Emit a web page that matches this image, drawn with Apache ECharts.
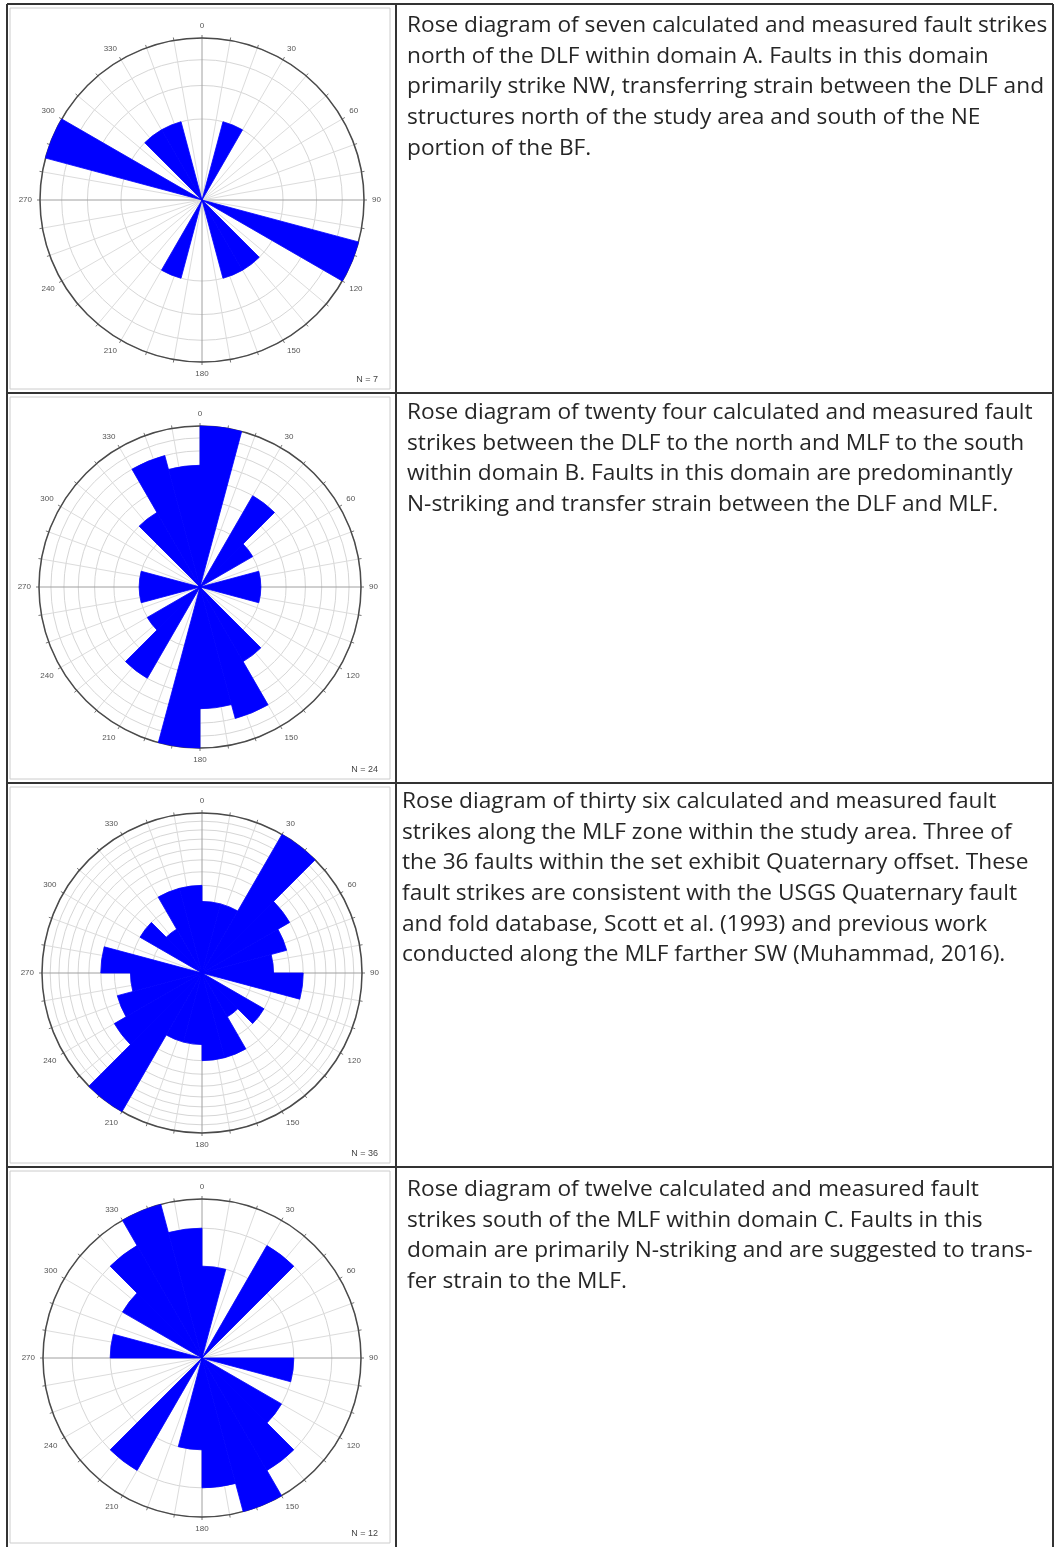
<!DOCTYPE html>
<html>
<head>
<meta charset="utf-8">
<title>Rose diagrams of fault strikes</title>
<script src="https://cdn.jsdelivr.net/npm/echarts@6/dist/echarts.min.js"></script>
<style>
  html, body { margin: 0; padding: 0; background: #fff; }
  #roses { width: 1054px; height: 1547px; }
</style>
</head>
<body>
<div id="roses"></div>
<script>
  // 15 degree bins; counts read for 0-180, the rose is bidirectional so 180-360 repeats them
  var binLabels = ['0', '15', '30', '45', '60', '75', '90', '105', '120', '135', '150', '165',
    '180', '195', '210', '225', '240', '255', '270', '285', '300', '315', '330', '345'];
  var countsA = [0, 1, 0, 0, 0, 0, 0, 4, 0, 1, 1, 0];
  var countsB = [7, 0, 3, 1, 0, 1, 1, 0, 0, 2, 5, 4];
  var countsMLF = [2, 2, 10, 4, 3, 2, 4, 0, 2, 1, 3, 3];
  var countsC = [1, 0, 2, 0, 0, 0, 1, 0, 1, 2, 3, 2];
  var nLabels = ['N = 7', 'N = 24', 'N = 36', 'N = 12'];
  var tickLabels = [0, 30, 60, 90, 120, 150, 180, 210, 240, 270, 300, 330];

  var captionA = [
    'Rose diagram of seven calculated and measured fault strikes',
    'north of the DLF within domain A. Faults in this domain',
    'primarily strike NW, transferring strain between the DLF and',
    'structures north of the study area and south of the NE',
    'portion of the BF.'
  ];
  var captionB = [
    'Rose diagram of twenty four calculated and measured fault',
    'strikes between the DLF to the north and MLF to the south',
    'within domain B. Faults in this domain are predominantly',
    'N-striking and transfer strain between the DLF and MLF.'
  ];
  var captionMLF = [
    'Rose diagram of thirty six calculated and measured fault',
    'strikes along the MLF zone within the study area. Three of',
    'the 36 faults within the set exhibit Quaternary offset. These',
    'fault strikes are consistent with the USGS Quaternary fault',
    'and fold database, Scott et al. (1993) and previous work',
    'conducted along the MLF farther SW (Muhammad, 2016).'
  ];
  var captionC = [
    'Rose diagram of twelve calculated and measured fault',
    'strikes south of the MLF within domain C. Faults in this',
    'domain are primarily N-striking and are suggested to trans-',
    'fer strain to the MLF.'
  ];

  // layout of each table row
  var rows = [
    { counts: countsA, caption: captionA, cx: 202, cy: 200, r: 162, top: 4, bottom: 393, tx: 407, ty: 10 },
    { counts: countsB, caption: captionB, cx: 200, cy: 587, r: 161, top: 393, bottom: 783, tx: 407, ty: 397 },
    { counts: countsMLF, caption: captionMLF, cx: 202, cy: 973, r: 160, top: 783, bottom: 1167, tx: 402, ty: 786 },
    { counts: countsC, caption: captionC, cx: 202, cy: 1358, r: 159, top: 1167, bottom: 1547, tx: 407, ty: 1174 }
  ];

  var myChart = echarts.init(document.getElementById('roses'), null, { renderer: 'canvas' });

  var polar = [], angleAxis = [], radiusAxis = [], series = [], graphic = [];
  var spokeColors = ['#a0a0a0', '#dcdcdc', '#dcdcdc', '#dcdcdc', '#dcdcdc', '#dcdcdc', '#dcdcdc', '#dcdcdc', '#dcdcdc'];

  rows.forEach(function (row, i) {
    var maxCount = Math.max.apply(null, row.counts);
    var rings = [];
    for (var k = 1; k <= maxCount; k++) rings.push(Math.sqrt(k));

    // grid polar: spokes, outer circle, bearing labels
    polar.push({ center: [row.cx, row.cy], radius: row.r });
    angleAxis.push({
      polarIndex: 2 * i,
      type: 'value',
      min: 0,
      max: 360,
      interval: 10,
      startAngle: 90,
      clockwise: true,
      axisLine: { lineStyle: { color: '#4a4a4a', width: 1.5 } },
      axisTick: { show: true, length: 3, lineStyle: { color: '#777' } },
      axisLabel: {
        margin: 8,
        fontSize: 8,
        fontFamily: 'Liberation Sans',
        color: '#555',
        formatter: function (v) { return tickLabels.indexOf(v) >= 0 ? String(v) : ''; }
      },
      splitLine: { show: true, lineStyle: { color: spokeColors, width: 1 } }
    });
    radiusAxis.push({
      polarIndex: 2 * i,
      type: 'value',
      axisLine: { show: false },
      axisTick: { show: false },
      axisLabel: { show: false },
      splitLine: { show: false }
    });

    // petal polar: equal-area rose, radius ~ sqrt(count); rings at each count
    polar.push({ center: [row.cx, row.cy], radius: row.r });
    angleAxis.push({
      polarIndex: 2 * i + 1,
      type: 'category',
      data: binLabels,
      startAngle: 90,
      clockwise: true,
      boundaryGap: true,
      axisLine: { show: false },
      axisTick: { show: false },
      axisLabel: { show: false },
      splitLine: { show: false }
    });
    radiusAxis.push({
      polarIndex: 2 * i + 1,
      type: 'value',
      min: 0,
      max: Math.sqrt(maxCount),
      axisLine: { show: false },
      axisTick: { show: false, customValues: rings },
      axisLabel: { show: false },
      splitLine: { show: true, lineStyle: { color: '#d6d6d6', width: 1 } }
    });

    var full = row.counts.concat(row.counts);
    series.push({
      type: 'bar',
      coordinateSystem: 'polar',
      polarIndex: 2 * i + 1,
      barCategoryGap: '0%',
      silent: true,
      // stroke in the fill colour hides the seams between neighbouring petals
      itemStyle: { color: '#0000ff', borderColor: '#0000ff', borderWidth: 0.8 },
      data: full.map(function (c) { return Math.sqrt(c); })
    });

    // light frame of the figure inside the left cell
    graphic.push({
      type: 'rect',
      shape: { x: 10, y: row.top + 4, width: 380, height: row.bottom - row.top - 8 },
      style: { fill: null, stroke: '#cccccc', lineWidth: 1 },
      silent: true
    });
    graphic.push({
      type: 'text',
      style: {
        text: nLabels[i], x: 378, y: row.bottom - 13,
        align: 'right', verticalAlign: 'middle',
        fontSize: 9, fontFamily: 'Liberation Sans', fill: '#444'
      },
      silent: true
    });
    graphic.push({
      type: 'text',
      style: {
        text: row.caption.join('\n'), x: row.tx, y: row.ty,
        verticalAlign: 'top', lineHeight: 30.7,
        fontSize: 22.7, fontFamily: 'Open Sans', fill: '#262626'
      },
      silent: true
    });
    // row separator
    graphic.push({
      type: 'line',
      shape: { x1: 7, y1: row.top, x2: 1053, y2: row.top },
      style: { stroke: '#333', lineWidth: 2 },
      silent: true
    });
  });

  // table verticals
  [7, 396, 1053].forEach(function (x) {
    graphic.push({
      type: 'line',
      shape: { x1: x, y1: 4, x2: x, y2: 1547 },
      style: { stroke: '#333', lineWidth: 2 },
      silent: true
    });
  });

  myChart.setOption({
    animation: false,
    backgroundColor: '#fff',
    polar: polar,
    angleAxis: angleAxis,
    radiusAxis: radiusAxis,
    series: series,
    graphic: graphic
  });
</script>
</body>
</html>
